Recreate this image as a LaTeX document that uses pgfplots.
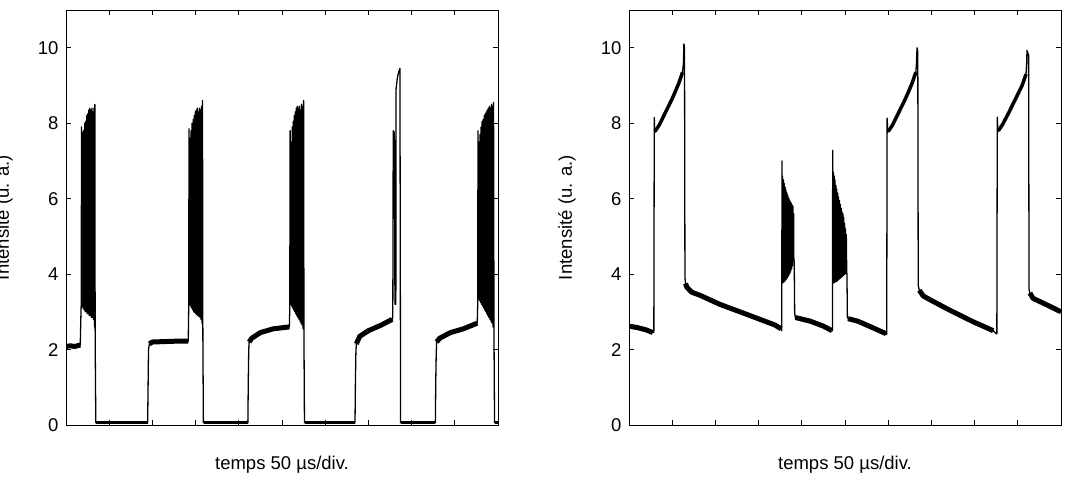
\documentclass[border=0pt]{standalone}
\usepackage{fontspec}
\setmainfont{Liberation Sans}
\usepackage{pgfplots}
\pgfplotsset{compat=1.18}
\newcommand\ff{\fontsize{18.5bp}{22bp}\selectfont}
\pgfplotsset{
  myax/.style={
    scale only axis, width=432bp, height=415bp,
    anchor=south west,
    xmin=0, xmax=10, ymin=0, ymax=11,
    xtick={1,...,9}, xticklabels={},
    ytick={0,2,4,6,8,10},
    tick align=inside, major tick length=5bp,
    axis line style={line width=0.8bp},
    every tick/.style={line width=0.8bp, black},
    /pgf/number format/assume math mode=true,
    yticklabel style={font=\ff, xshift=-4bp},
    xlabel={temps 50 µs/div.},
    ylabel={Intensité (u. a.)},
    xlabel style={font=\ff, at={(axis description cs:0.5,-0.0964)}, anchor=center},
    ylabel style={font=\ff, at={(axis description cs:-0.1435,0.5)}, anchor=center},
    clip=true,
  },
  tr/.style={black, line width=1.3bp, line join=round, mark=none},
  nz/.style={black, line width=5bp, line join=round, mark=none},
  nz0/.style={black, line width=3bp, line join=round, mark=none},
}
\begin{document}
\begin{tikzpicture}
% ---------------- left panel ----------------
\begin{axis}[myax, at={(66bp,59bp)}]
\addplot[tr] coordinates {
(0,2.08)(0.1,2.1)(0.2,2.08)(0.33,2.12)(0.345,2.9)(0.352,3.2)
(0.36,7.9)(0.372,3.15)(0.384,7.75)(0.396,3.1)(0.408,7.8)(0.420,3.05)(0.432,8.0)(0.444,3.0)
(0.456,8.05)(0.468,3.0)(0.480,8.2)(0.492,2.95)(0.504,8.25)(0.516,2.95)(0.528,8.35)(0.540,2.9)
(0.552,8.4)(0.564,2.9)(0.576,8.35)(0.588,2.85)(0.600,8.4)(0.612,2.85)(0.624,8.3)(0.636,2.8)
(0.648,8.4)(0.660,2.6)(0.668,8.5)(0.675,2.3)
(0.69,0.06)(1.89,0.06)(1.9,1.0)(1.91,2.0)(1.93,2.15)(2.0,2.2)(2.5,2.22)(2.83,2.22)(2.84,3.1)
(2.848,7.85)(2.86,3.2)(2.872,7.6)(2.884,3.15)(2.896,7.8)(2.908,3.1)(2.92,8.0)(2.932,3.05)
(2.944,8.1)(2.956,3.0)(2.968,8.2)(2.98,2.98)(2.992,8.3)(3.004,2.95)(3.016,8.35)(3.028,2.92)
(3.04,8.4)(3.052,2.9)(3.064,8.3)(3.076,2.88)(3.088,8.4)(3.10,2.85)(3.112,8.35)(3.124,2.8)
(3.136,8.45)(3.148,2.7)(3.16,8.6)(3.168,2.4)
(3.18,0.06)(4.21,0.06)(4.22,1.2)(4.23,2.0)(4.24,2.2)(4.3,2.3)(4.5,2.45)(4.8,2.55)(5.17,2.6)(5.18,3.1)
(5.188,7.8)(5.20,3.2)(5.212,7.5)(5.224,3.15)(5.236,7.9)(5.248,3.1)(5.26,8.05)(5.272,3.05)
(5.284,8.2)(5.296,3.0)(5.308,8.3)(5.32,2.95)(5.332,8.4)(5.344,2.9)(5.356,8.45)(5.368,2.85)
(5.38,8.4)(5.392,2.8)(5.404,8.45)(5.416,2.75)(5.428,8.35)(5.44,2.7)(5.452,8.5)(5.464,2.65)
(5.476,8.45)(5.488,2.55)(5.50,8.6)(5.508,2.4)
(5.52,0.06)(6.69,0.06)(6.70,1.2)(6.71,1.9)(6.72,2.15)(6.8,2.35)(7.0,2.5)(7.3,2.65)(7.55,2.8)
(7.565,2.85)(7.575,7.8)(7.60,7.75)(7.615,3.2)(7.635,3.2)(7.64,8.9)(7.67,9.2)(7.70,9.35)(7.73,9.45)
(7.745,0.06)(8.55,0.06)(8.56,1.2)(8.57,1.9)(8.58,2.2)(8.65,2.3)(8.9,2.45)(9.2,2.55)(9.52,2.7)(9.53,3.2)
(9.537,7.8)(9.549,3.35)(9.561,7.5)(9.573,3.3)(9.585,7.7)(9.597,3.25)(9.609,7.9)(9.621,3.2)
(9.633,8.05)(9.645,3.15)(9.657,8.1)(9.669,3.1)(9.681,8.2)(9.693,3.05)(9.705,8.25)(9.717,3.0)
(9.729,8.3)(9.741,2.95)(9.753,8.35)(9.765,2.9)(9.777,8.4)(9.789,2.85)(9.801,8.45)(9.813,2.8)
(9.825,8.4)(9.837,2.75)(9.849,8.5)(9.861,2.7)(9.873,8.45)(9.885,2.6)(9.897,8.55)(9.907,2.4)
(9.92,0.06)(10,0.06)
};
% noisy plateaus
\addplot[nz] coordinates {(0,2.08)(0.1,2.1)(0.2,2.08)(0.33,2.12)};
\addplot[nz] coordinates {(1.93,2.15)(2.0,2.2)(2.5,2.22)(2.83,2.22)};
\addplot[nz] coordinates {(4.24,2.2)(4.3,2.3)(4.5,2.45)(4.8,2.55)(5.17,2.6)};
\addplot[nz] coordinates {(6.72,2.15)(6.8,2.35)(7.0,2.5)(7.3,2.65)(7.55,2.8)};
\addplot[nz] coordinates {(8.58,2.2)(8.65,2.3)(8.9,2.45)(9.2,2.55)(9.52,2.7)};
\addplot[nz0] coordinates {(0.70,0.07)(1.89,0.07)};
\addplot[nz0] coordinates {(3.19,0.07)(4.21,0.07)};
\addplot[nz0] coordinates {(5.53,0.07)(6.69,0.07)};
\addplot[nz0] coordinates {(7.76,0.07)(8.55,0.07)};
\addplot[nz0] coordinates {(9.93,0.07)(10,0.07)};
\end{axis}
% ---------------- right panel ----------------
\begin{axis}[myax, at={(629bp,59bp)}]
\addplot[tr] coordinates {
(0,2.62)(0.2,2.58)(0.4,2.52)(0.55,2.45)(0.575,2.45)(0.585,8.15)(0.595,7.75)
(0.7,7.95)(0.85,8.3)(1.0,8.65)(1.15,9.05)(1.24,9.35)(1.26,9.6)(1.27,10.1)(1.285,10.0)
(1.295,3.9)(1.31,3.75)(1.34,3.65)(1.45,3.52)(1.64,3.44)(2.1,3.2)(2.8,2.9)(3.38,2.65)(3.52,2.55)(3.535,2.5)
(3.542,7.0)(3.547,3.76)(3.555,6.6)(3.565,3.77)(3.575,6.5)(3.585,3.79)(3.595,6.4)(3.605,3.81)
(3.615,6.3)(3.625,3.84)(3.635,6.22)(3.645,3.87)(3.655,6.15)(3.665,3.9)(3.675,6.08)(3.685,3.94)
(3.695,6.02)(3.705,3.98)(3.715,5.96)(3.725,4.02)(3.735,5.92)(3.745,4.08)(3.755,5.88)(3.765,4.14)
(3.775,5.84)(3.785,4.22)(3.795,5.8)(3.805,4.35)(3.812,5.6)(3.815,4.45)(3.825,4.3)
(3.835,2.95)(3.85,2.85)(4.2,2.75)(4.5,2.62)(4.7,2.5)(4.71,2.5)
(4.715,7.28)(4.72,3.76)(4.73,6.7)(4.74,3.77)(4.75,6.6)(4.76,3.78)(4.77,6.5)(4.78,3.8)
(4.79,6.35)(4.80,3.8)(4.81,6.25)(4.82,3.82)(4.83,6.15)(4.84,3.84)(4.85,6.05)(4.86,3.86)
(4.87,5.95)(4.88,3.88)(4.89,5.85)(4.90,3.9)(4.91,5.75)(4.92,3.92)(4.93,5.65)(4.94,3.94)
(4.95,5.6)(4.96,3.96)(4.97,5.5)(4.98,3.98)(4.99,5.35)(5.00,4.0)(5.01,5.2)(5.02,4.02)
(5.03,5.05)(5.04,4.05)(5.045,4.0)
(5.055,2.87)(5.07,2.82)(5.3,2.75)(5.6,2.6)(5.95,2.42)(5.965,2.4)(5.975,8.13)(5.99,7.76)
(6.0,7.78)(6.1,7.95)(6.25,8.3)(6.4,8.65)(6.55,9.05)(6.64,9.35)(6.655,9.6)(6.667,10.0)(6.685,9.9)
(6.695,3.7)(6.72,3.57)(6.81,3.42)(7.0,3.3)(7.43,3.04)(7.96,2.74)(8.43,2.5)(8.5,2.42)(8.515,2.42)
(8.525,8.16)(8.54,7.77)(8.55,7.8)(8.65,7.97)(8.8,8.3)(8.95,8.65)(9.1,9.0)(9.19,9.3)(9.205,9.6)(9.213,9.93)(9.25,9.8)
(9.26,3.6)(9.28,3.5)(9.35,3.36)(9.68,3.18)(10,3.0)
};
\addplot[nz] coordinates {(0,2.62)(0.2,2.58)(0.4,2.52)(0.55,2.45)};
\addplot[nz] coordinates {(1.31,3.75)(1.34,3.65)(1.45,3.52)(1.64,3.44)(2.1,3.2)(2.8,2.9)(3.38,2.65)(3.52,2.55)};
\addplot[nz] coordinates {(3.85,2.85)(4.2,2.75)(4.5,2.62)(4.7,2.5)};
\addplot[nz] coordinates {(5.07,2.82)(5.3,2.75)(5.6,2.6)(5.95,2.42)};
\addplot[nz] coordinates {(6.72,3.57)(6.81,3.42)(7.0,3.3)(7.43,3.04)(7.96,2.74)(8.43,2.5)};
\addplot[nz] coordinates {(9.28,3.5)(9.35,3.36)(9.68,3.18)(10,3.0)};
\addplot[black, line width=3.5bp, line join=round] coordinates {(0.6,7.78)(0.7,7.95)(0.85,8.3)(1.0,8.65)(1.15,9.05)(1.24,9.35)};
\addplot[black, line width=3.5bp, line join=round] coordinates {(6.0,7.78)(6.1,7.95)(6.25,8.3)(6.4,8.65)(6.55,9.05)(6.64,9.35)};
\addplot[black, line width=3.5bp, line join=round] coordinates {(8.55,7.8)(8.65,7.97)(8.8,8.3)(8.95,8.65)(9.1,9.0)(9.19,9.3)};
\end{axis}
\pgfresetboundingbox
\path[use as bounding box] (0,0) rectangle (1068bp,484bp);
\end{tikzpicture}
\end{document}
